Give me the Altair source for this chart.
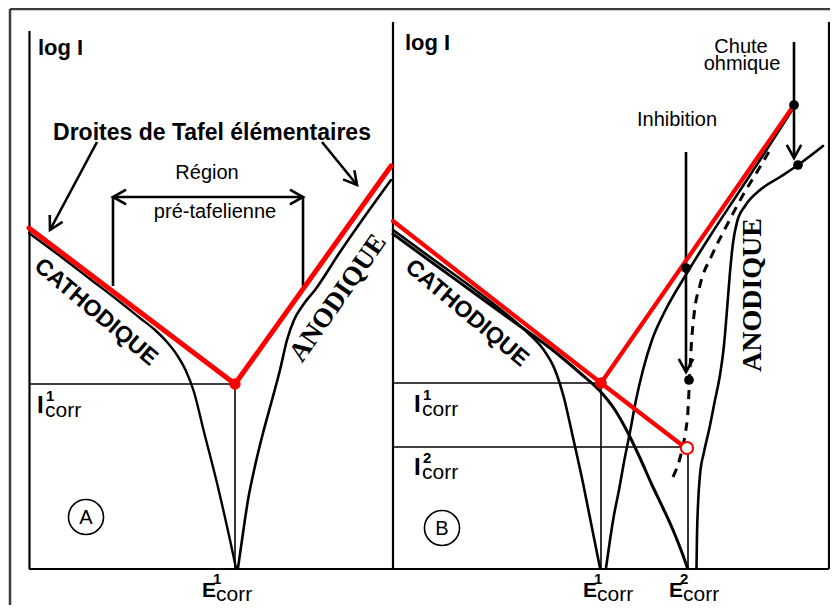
import math
import altair as alt
import pandas as pd

SANS = "Liberation Sans"
SERIF = "Liberation Serif"

# ---------------------------------------------------------------------------
# Schematic data: E = potential (horizontal), D = log I measured downward
# ---------------------------------------------------------------------------
# Panel A
A_CATH_E = [29, 60, 90, 120, 140, 155, 167, 177, 186, 194, 203, 217, 230, 236]
A_CATH_D = [233, 256, 279, 302, 318, 330, 342, 355, 371, 392, 428, 483, 540, 568]
A_ANOD_E = [238, 243, 248, 255, 263, 272, 280, 287, 294, 303, 315, 340, 365, 391]
A_ANOD_D = [568, 533, 500, 466, 433, 400, 370, 340, 320, 305, 290, 252, 216, 180]
A_TAFEL_E = [29, 235, 391]
A_TAFEL_D = [228, 384, 166]

# Panel B
B_CATH1_E = [393, 430, 470, 505, 528, 543, 555, 564, 572, 583, 593, 600]
B_CATH1_D = [230, 257, 286, 313, 333, 349, 370, 398, 433, 483, 533, 568]
B_CATH2_E = [393, 430, 470, 510, 550, 580, 600, 615, 627, 640, 652, 663, 673, 681, 687.5]
B_CATH2_D = [234, 261, 290, 319, 348, 373, 391, 410, 431, 458, 485, 508, 530, 550, 568]
B_ANOD1_E = [606, 610, 614, 619, 624, 630, 636, 643, 652, 664, 687, 712, 737, 760, 780, 794]
B_ANOD1_D = [568, 540, 515, 490, 462, 432, 400, 370, 340, 313, 273, 233, 195, 160, 129, 107]
B_INHIB_E = [673, 680, 685, 688, 689.5, 691, 694, 700, 712, 727, 743, 757, 770]
B_INHIB_D = [477, 458, 435, 410, 380, 350, 315, 285, 255, 225, 195, 172, 150]
B_OHM_E = [696.5, 697, 698, 700, 704, 709, 715, 720, 724, 727, 730, 733, 737, 745, 760, 780, 798, 823]
B_OHM_D = [568, 535, 505, 475, 452, 430, 400, 375, 345, 310, 272, 243, 222, 206, 190, 177, 165, 146]
B_TAFEL_C_E = [393, 601, 687]
B_TAFEL_C_D = [221, 383, 449]
B_TAFEL_A_E = [601, 794]
B_TAFEL_A_D = [383, 105]

# Characteristic points
ECORR_E = [235, 601, 687]          # E1corr (A), E1corr (B), E2corr (B)
ICORR_D = [384, 383, 448]          # I1corr (A), I1corr (B), I2corr (B)
BLACK_PT_E = [794, 798, 686, 689]
BLACK_PT_D = [105, 165, 268, 380]

xs = alt.Scale(domain=[8, 830], nice=False, zero=False)
ys = alt.Scale(domain=[8, 605], nice=False, zero=False, reverse=True)
X = lambda f="x": alt.X(f"{f}:Q", scale=xs, axis=None)
Y = lambda f="y": alt.Y(f"{f}:Q", scale=ys, axis=None)

layers = []


def segs(rows, color="black", width=2.0, cap="butt"):
    df = pd.DataFrame(rows, columns=["x", "y", "x2", "y2"])
    return alt.Chart(df).mark_rule(color=color, strokeWidth=width, strokeCap=cap).encode(
        x=X("x"), y=Y("y"), x2="x2:Q", y2="y2:Q")


def curve(es, ds, color="black", width=2.5, dash=None, interp="monotone"):
    df = pd.DataFrame({"x": es, "y": ds, "k": list(range(len(es)))})
    kw = dict(color=color, strokeWidth=width, interpolate=interp, strokeCap="round", strokeJoin="round")
    if dash:
        kw["strokeDash"] = dash
        kw["strokeCap"] = "butt"
    return alt.Chart(df).mark_line(**kw).encode(x=X(), y=Y(), order="k:Q")


# outer frame
layers.append(segs([(10, 9, 838, 9), (10, 9, 10, 613)], color="#3c3c3c", width=2.5))
# panel frames
layers.append(segs([(29.5, 31, 29.5, 569), (29, 569, 393, 569),
                    (393, 22, 393, 569), (393, 569, 829, 569), (829, 22, 829, 569)],
                   width=2.2))
# thin guides for Ecorr / Icorr
layers.append(segs([(29, ICORR_D[0], ECORR_E[0], ICORR_D[0]), (ECORR_E[0], ICORR_D[0], ECORR_E[0], 569),
                    (393, ICORR_D[1], ECORR_E[1], ICORR_D[1]), (ECORR_E[1], ICORR_D[1], ECORR_E[1], 569),
                    (393, ICORR_D[2] - 1, ECORR_E[2] - 6, ICORR_D[2] - 1), (ECORR_E[2] + 1, 452, ECORR_E[2] + 1, 569)],
                   width=1.6))
# bracket and arrow shafts
BRACKET = dict(x1=113, x2=303, top=197, bottom=286)
ARROWS = [((97, 142), (50, 230)), ((322, 142), (357, 185)),
          ((794, 42), (794, 158)), ((686, 152), (686, 372))]
rows = [(BRACKET["x1"], BRACKET["top"], BRACKET["x2"], BRACKET["top"]),
        (BRACKET["x1"], BRACKET["top"], BRACKET["x1"], BRACKET["bottom"]),
        (BRACKET["x2"], BRACKET["top"], BRACKET["x2"], BRACKET["bottom"])]
rows += [(a[0], a[1], b[0], b[1]) for a, b in ARROWS]
layers.append(segs(rows, width=2.6))

# arrow heads (open V)
heads = ARROWS + [((BRACKET["x2"], BRACKET["top"]), (BRACKET["x1"], BRACKET["top"])),
                  ((BRACKET["x1"], BRACKET["top"]), (BRACKET["x2"], BRACKET["top"]))]
hrows = []
L, half = 15, math.radians(29)
for i, (tail, tip) in enumerate(heads):
    ux, uy = tail[0] - tip[0], tail[1] - tip[1]
    n = math.hypot(ux, uy)
    ux, uy = ux / n, uy / n
    w1 = (tip[0] + L * (ux * math.cos(half) - uy * math.sin(half)), tip[1] + L * (ux * math.sin(half) + uy * math.cos(half)))
    w2 = (tip[0] + L * (ux * math.cos(-half) - uy * math.sin(-half)), tip[1] + L * (ux * math.sin(-half) + uy * math.cos(-half)))
    for k, p in enumerate([w1, tip, w2]):
        hrows.append({"id": i, "k": k, "x": p[0], "y": p[1]})
layers.append(alt.Chart(pd.DataFrame(hrows)).mark_line(color="black", strokeWidth=2.6, strokeJoin="miter").encode(
    x=X(), y=Y(), detail="id:N", order="k:Q"))

# experimental curves
layers.append(curve(A_CATH_E, A_CATH_D, width=2.4))
layers.append(curve(A_ANOD_E, A_ANOD_D, width=2.6))
layers.append(curve(B_CATH1_E, B_CATH1_D, width=2.6))
layers.append(curve(B_CATH2_E, B_CATH2_D, width=3.0))
layers.append(curve(B_ANOD1_E, B_ANOD1_D, width=2.6))
layers.append(curve(B_OHM_E, B_OHM_D, width=2.6))
layers.append(curve(B_INHIB_E, B_INHIB_D, width=3.0, dash=[9, 7]))

# Tafel lines (red)
layers.append(curve(A_TAFEL_E, A_TAFEL_D, color="#ff0000", width=5, interp="linear"))
layers.append(curve(B_TAFEL_C_E, B_TAFEL_C_D, color="#ff0000", width=4.2, interp="linear"))
layers.append(curve(B_TAFEL_A_E, B_TAFEL_A_D, color="#ff0000", width=4.2, interp="linear"))

# points
layers.append(alt.Chart(pd.DataFrame({"x": BLACK_PT_E, "y": BLACK_PT_D})).mark_point(
    shape="circle", filled=True, color="black", size=95, opacity=1).encode(x=X(), y=Y()))
layers.append(alt.Chart(pd.DataFrame({"x": ECORR_E[:2], "y": ICORR_D[:2]})).mark_point(
    shape="circle", filled=True, color="#ff0000", size=130, opacity=1).encode(x=X(), y=Y()))
layers.append(alt.Chart(pd.DataFrame({"x": [ECORR_E[2]], "y": [ICORR_D[2]]})).mark_point(
    shape="circle", filled=True, fill="white", stroke="#ff0000", strokeWidth=2, size=150, opacity=1).encode(x=X(), y=Y()))

# panel badges
PANELS = ["A", "B"]
PANEL_E = [86, 442]
PANEL_D = [517, 528]
layers.append(alt.Chart(pd.DataFrame({"x": PANEL_E, "y": PANEL_D})).mark_point(
    shape="circle", filled=False, color="black", strokeWidth=1.6, size=1230, opacity=1).encode(x=X(), y=Y()))


def txt(s, x, y, size, weight="normal", font=SANS, align="center", baseline="alphabetic", angle=0):
    df = pd.DataFrame({"x": [x], "y": [y], "t": [s]})
    kw = dict(fontSize=size, fontWeight=weight, font=font, align=align, baseline=baseline, color="black")
    if angle:
        kw["angle"] = angle
    return alt.Chart(df).mark_text(**kw).encode(x=X(), y=Y(), text="t:N")


for p, e, d in zip(PANELS, PANEL_E, PANEL_D):
    layers.append(txt(p, e, d + 1, 20, baseline="middle"))

layers += [
    txt("log I", 38, 55, 22, "bold", align="left"),
    txt("log I", 405, 50, 22, "bold", align="left"),
    txt("Droites de Tafel élémentaires", 212, 140, 23, "bold"),
    txt("Région", 207, 179, 20),
    txt("pré-tafelienne", 215, 218, 20),
    txt("CATHODIQUE", 96, 312, 23, "bold", baseline="middle", angle=40),
    txt("CATHODIQUE", 467, 313, 23, "bold", baseline="middle", angle=40),
    txt("ANODIQUE", 338, 298, 27, "bold", font=SERIF, baseline="middle", angle=305),
    txt("ANODIQUE", 753, 295, 28, "bold", font=SERIF, baseline="middle", angle=270),
    txt("Chute", 741, 53, 20),
    txt("ohmique", 742, 70, 20),
    txt("Inhibition", 677, 126, 20),
]

# Icorr labels
for (xi, yi, sup) in [(37, 413, "1"), (414, 412, "1"), (414, 475, "2")]:
    layers.append(txt("I", xi, yi, 24, "bold", align="left"))
    layers.append(txt(sup, xi + 9, yi - 12, 15, "bold", align="left"))
    layers.append(txt("corr", xi + 8, yi + 4, 21, align="left"))

# Ecorr labels
for (xe, sup) in [(202, "1"), (583, "1"), (669, "2")]:
    layers.append(txt("E", xe, 597, 21, "bold", align="left"))
    layers.append(txt(sup, xe + 11, 584, 15, "bold", align="left"))
    layers.append(txt("corr", xe + 14, 601, 21, align="left"))

chart = alt.layer(*layers).properties(
    width=822, height=597, padding=0, autosize="none", background="white"
).configure_view(strokeWidth=0)

chart.save("out.html", embed_options={"renderer": "svg", "actions": False})
